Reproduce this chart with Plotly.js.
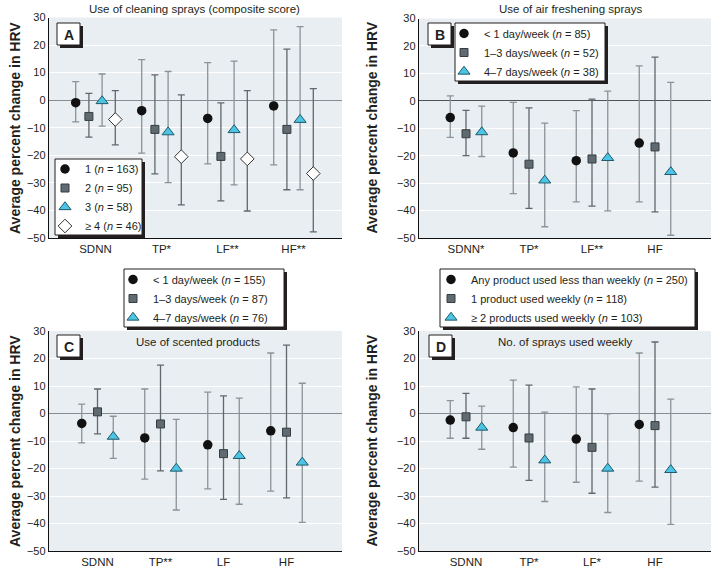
<!DOCTYPE html>
<html>
<head>
<meta charset="utf-8">
<script src="https://cdn.plot.ly/plotly-3.0.1.min.js"></script>
<style>
html,body{margin:0;padding:0;background:#fff;}
#chart{width:712px;height:571px;}
</style>
</head>
<body>
<div id="chart"></div>
<script>
// ---------------- DATA ----------------
// Panel A: Use of cleaning sprays (composite score)
const catsA = ['SDNN', 'TP*', 'LF**', 'HF**'];
const A1_mean = [-0.9, -3.8, -6.6, -2.1];
const A1_lo   = [-7.9, -19.2, -23.1, -23.5];
const A1_hi   = [6.7, 14.7, 13.6, 25.5];
const A2_mean = [-5.9, -10.6, -20.4, -10.6];
const A2_lo   = [-13.4, -26.7, -36.5, -32.5];
const A2_hi   = [2.5, 9.2, -1.0, 18.5];
const A3_mean = [-0.3, -11.6, -10.8, -7.1];
const A3_lo   = [-9.4, -29.9, -30.7, -32.5];
const A3_hi   = [9.5, 10.4, 14.2, 26.7];
const A4_mean = [-7.0, -20.5, -21.3, -26.6];
const A4_lo   = [-16.2, -38.0, -40.2, -47.8];
const A4_hi   = [3.5, 1.9, 3.5, 4.2];
const namesA = ['1 (<i>n</i> = 163)', '2 (<i>n</i> = 95)', '3 (<i>n</i> = 58)', '≥ 4 (<i>n</i> = 46)'];

// Panel B: Use of air freshening sprays
const catsB = ['SDNN*', 'TP*', 'LF**', 'HF'];
const B1_mean = [-6.1, -19.0, -21.8, -15.4];
const B1_lo   = [-13.3, -33.8, -36.8, -36.8];
const B1_hi   = [1.8, -0.6, -3.6, 12.7];
const B2_mean = [-12.0, -23.1, -21.2, -16.8];
const B2_lo   = [-20.0, -39.2, -38.4, -40.5];
const B2_hi   = [-3.5, -2.6, 0.6, 15.9];
const B3_mean = [-11.4, -29.0, -20.8, -25.9];
const B3_lo   = [-20.3, -45.9, -40.1, -49.0];
const B3_hi   = [-1.9, -8.1, 3.5, 6.7];
const namesB = ['&lt; 1 day/week (<i>n</i> = 85)', '1–3 days/week (<i>n</i> = 52)', '4–7 days/week (<i>n</i> = 38)'];

// Panel C: Use of scented products
const catsC = ['SDNN', 'TP**', 'LF', 'HF'];
const C1_mean = [-3.6, -8.9, -11.4, -6.3];
const C1_lo   = [-10.7, -23.9, -27.4, -28.2];
const C1_hi   = [3.4, 8.9, 7.8, 22.0];
const C2_mean = [0.6, -3.8, -14.6, -6.8];
const C2_lo   = [-7.4, -20.9, -31.2, -30.7];
const C2_hi   = [8.9, 17.6, 6.4, 24.9];
const C3_mean = [-8.4, -20.0, -15.4, -17.8];
const C3_lo   = [-16.3, -35.1, -33.0, -39.6];
const C3_hi   = [-1.0, -2.1, 5.6, 11.0];
const namesC = ['&lt; 1 day/week (<i>n</i> = 155)', '1–3 days/week (<i>n</i> = 87)', '4–7 days/week (<i>n</i> = 76)'];

// Panel D: No. of sprays used weekly
const catsD = ['SDNN', 'TP*', 'LF*', 'HF'];
const D1_mean = [-2.4, -5.1, -9.3, -4.0];
const D1_lo   = [-9.0, -19.5, -25.0, -24.6];
const D1_hi   = [4.7, 12.1, 9.7, 22.0];
const D2_mean = [-1.2, -8.9, -12.3, -4.4];
const D2_lo   = [-9.0, -24.3, -29.0, -26.8];
const D2_hi   = [7.3, 10.3, 8.9, 26.0];
const D3_mean = [-5.1, -17.0, -20.0, -20.5];
const D3_lo   = [-13.0, -32.0, -36.0, -40.3];
const D3_hi   = [2.7, 0.5, -0.1, 5.2];
const namesD = ['Any product used less than weekly (<i>n</i> = 250)', '1 product used weekly (<i>n</i> = 118)', '≥ 2 products used weekly (<i>n</i> = 103)'];

const yTicks = [-50, -40, -30, -20, -10, 0, 10, 20, 30];

// ---------------- STYLE / LAYOUT ----------------
const W = 712, H = 571;
const FONT = '"Liberation Sans", Arial, sans-serif';
const TXT = '#231f20';
const px = x => x / W;
const py = y => 1 - y / H;

const markerStyles = [
  {symbol: 'circle', size: 9.5, color: '#111111', line: {color: '#111111', width: 0}},
  {symbol: 'square', size: 8, color: '#5f6b71', line: {color: '#363d41', width: 1}},
  {symbol: 'triangle-up', size: 10.5, color: '#4cc4e4', line: {color: '#21586a', width: 1}},
  {symbol: 'diamond', size: 10.5, color: '#ffffff', line: {color: '#333333', width: 1}}
];
const barColors = ['#8a9398', '#5f686d', '#8a9398', '#5f686d'];

const panels = [
  {ax: '', legend: 'legend', xdom: [49, 342], ydom: [17.5, 238], c0: 95.5, sp: 66,
   offsets: [-0.3, -0.1, 0.1, 0.3], cats: catsA, names: namesA,
   series: [[A1_mean, A1_lo, A1_hi], [A2_mean, A2_lo, A2_hi], [A3_mean, A3_lo, A3_hi], [A4_mean, A4_lo, A4_hi]],
   zero: '#848d92'},
  {ax: '2', legend: 'legend2', xdom: [419, 711], ydom: [18.5, 238], c0: 466, sp: 63,
   offsets: [-0.25, 0, 0.25], cats: catsB, names: namesB,
   series: [[B1_mean, B1_lo, B1_hi], [B2_mean, B2_lo, B2_hi], [B3_mean, B3_lo, B3_hi]],
   zero: '#4d5356'},
  {ax: '3', legend: 'legend3', xdom: [49, 342], ydom: [331, 551], c0: 97.5, sp: 63,
   offsets: [-0.25, 0, 0.25], cats: catsC, names: namesC,
   series: [[C1_mean, C1_lo, C1_hi], [C2_mean, C2_lo, C2_hi], [C3_mean, C3_lo, C3_hi]],
   zero: '#848d92'},
  {ax: '4', legend: 'legend4', xdom: [419, 711], ydom: [331, 551], c0: 466, sp: 63,
   offsets: [-0.25, 0, 0.25], cats: catsD, names: namesD,
   series: [[D1_mean, D1_lo, D1_hi], [D2_mean, D2_lo, D2_hi], [D3_mean, D3_lo, D3_hi]],
   zero: '#848d92'}
];

const traces = [];
const layout = {
  width: W, height: H,
  margin: {l: 0, r: 0, t: 0, b: 0},
  paper_bgcolor: '#ffffff',
  plot_bgcolor: '#e9eef2',
  font: {family: FONT, size: 11, color: TXT},
  shapes: [],
  annotations: []
};

panels.forEach(p => {
  const xa = 'x' + p.ax, ya = 'y' + p.ax;
  p.series.forEach((s, i) => {
    const [mean, lo, hi] = s;
    traces.push({
      type: 'scatter', mode: 'markers',
      x: mean.map((_, k) => k + p.offsets[i]),
      y: mean,
      xaxis: xa, yaxis: ya,
      name: p.names[i],
      legend: p.legend,
      showlegend: true,
      cliponaxis: false,
      marker: markerStyles[i],
      error_y: {
        type: 'data', symmetric: false,
        array: hi.map((h, k) => h - mean[k]),
        arrayminus: lo.map((l, k) => mean[k] - l),
        color: barColors[i], thickness: 1.3, width: 3.5
      },
      hoverinfo: 'skip'
    });
  });
  const left = -(p.c0 - p.xdom[0]) / p.sp;
  const right = 3 + (p.xdom[1] - (p.c0 + 3 * p.sp)) / p.sp;
  layout['xaxis' + p.ax] = {
    domain: [px(p.xdom[0]), px(p.xdom[1])],
    anchor: ya, range: [left, right],
    tickmode: 'array', tickvals: [0, 1, 2, 3], ticktext: p.cats,
    showgrid: false, zeroline: false, showline: true, linecolor: '#111', linewidth: 1.2,
    ticks: '', tickfont: {family: FONT, size: 11.5, color: TXT}, fixedrange: true
  };
  layout['yaxis' + p.ax] = {
    domain: [py(p.ydom[1]), py(p.ydom[0])],
    anchor: xa, range: [-50, 30],
    tickmode: 'array', tickvals: yTicks,
    showgrid: true, gridcolor: '#ffffff', gridwidth: 1,
    zeroline: true, zerolinecolor: p.zero, zerolinewidth: 1.3,
    showline: true, linecolor: '#111', linewidth: 1.2,
    ticks: '', tickfont: {family: FONT, size: 11, color: TXT}, fixedrange: true
  };
});

// legends
const legBase = {bgcolor: 'rgba(0,0,0,0)', borderwidth: 0, xanchor: 'left', yanchor: 'top',
  font: {family: FONT, size: 11, color: TXT}, tracegroupgap: 0};
layout.legend  = Object.assign({}, legBase, {x: px(45),  y: py(154.5)});
layout.legend2 = Object.assign({}, legBase, {x: px(444), y: py(19)});
layout.legend3 = Object.assign({}, legBase, {x: px(113), y: py(265)});
layout.legend4 = Object.assign({}, legBase, {x: px(431), y: py(265)});

function boxWithShadow(x0, y0, x1, y1) {
  layout.shapes.push({type: 'rect', xref: 'paper', yref: 'paper', layer: 'above',
    x0: px(x0 + 3), x1: px(x1 + 3), y0: py(y0 + 3), y1: py(y1 + 3),
    fillcolor: '#231f20', line: {width: 0}});
  layout.shapes.push({type: 'rect', xref: 'paper', yref: 'paper', layer: 'above',
    x0: px(x0), x1: px(x1), y0: py(y0), y1: py(y1),
    fillcolor: '#ffffff', line: {color: '#231f20', width: 1}});
}
// legend boxes
boxWithShadow(55, 159, 142, 235);
boxWithShadow(455, 23, 605, 81);
boxWithShadow(124, 269, 284, 327);
boxWithShadow(440, 269, 695, 327);
// panel letter boxes
const letters = [['A', 57, 23], ['B', 428, 23], ['C', 57, 335], ['D', 429, 335]];
letters.forEach(([t, x, y]) => {
  boxWithShadow(x, y, x + 23, y + 22);
  layout.annotations.push({text: '<b>' + t + '</b>', xref: 'paper', yref: 'paper',
    x: px(x + 11.5), y: py(y + 11.5), xanchor: 'center', yanchor: 'middle', showarrow: false,
    font: {family: FONT, size: 14, color: TXT}});
});

// panel titles
const titles = [
  ['Use of cleaning sprays (composite score)', 195, 9],
  ['Use of air freshening sprays', 570, 9],
  ['Use of scented products', 198, 342],
  ['No. of sprays used weekly', 565, 342]
];
titles.forEach(([t, x, y]) => layout.annotations.push({text: t, xref: 'paper', yref: 'paper',
  x: px(x), y: py(y), xanchor: 'center', yanchor: 'middle', showarrow: false,
  font: {family: FONT, size: 11.5, color: TXT}}));

// y-axis titles
[[15, 128], [371.5, 128], [15, 441], [371.5, 441]].forEach(([x, y]) => layout.annotations.push({
  text: '<b>Average percent change in HRV</b>', xref: 'paper', yref: 'paper',
  x: px(x), y: py(y), xanchor: 'center', yanchor: 'middle', textangle: -90, showarrow: false,
  font: {family: FONT, size: 14, color: TXT}}));

Plotly.newPlot('chart', traces, layout, {displayModeBar: false, staticPlot: true});
</script>
</body>
</html>
